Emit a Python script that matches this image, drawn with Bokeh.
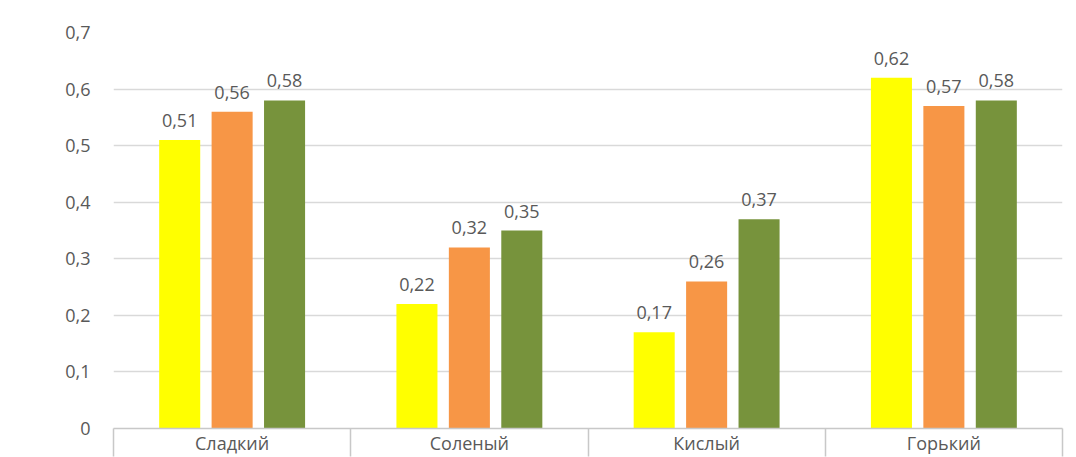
from bokeh.plotting import figure
from bokeh.models import ColumnDataSource, FixedTicker, LinearAxis, LabelSet, CustomJSTickFormatter, Range1d
from bokeh.core.properties import value
from bokeh.embed import file_html
from bokeh.resources import INLINE

categories = ["Сладкий", "Соленый", "Кислый", "Горький"]
series_a = [0.51, 0.22, 0.17, 0.62]
series_b = [0.56, 0.32, 0.26, 0.57]
series_c = [0.58, 0.35, 0.37, 0.58]
colors = ["#FFFF00", "#F79646", "#77933C"]
y_ticks = [0, 0.1, 0.2, 0.3, 0.4, 0.5, 0.6, 0.7]

FONT = "Open Sans"
GREY = "#595959"
FS = "18px"

p = figure(width=1076, height=457, output_backend="svg", toolbar_location=None,
           x_range=Range1d(0, len(categories)), y_range=Range1d(0, 0.7),
           x_axis_type=None, min_border_left=113, min_border_right=14,
           min_border_top=32, min_border_bottom=28)
p.outline_line_color = None
p.background_fill_color = "white"
p.border_fill_color = "white"

bar_w = 0.173
offsets = [-0.221, 0.0, 0.221]
for s, (vals, col, off) in enumerate(zip([series_a, series_b, series_c], colors, offsets)):
    xs = [i + 0.5 + off for i in range(len(categories))]
    src = ColumnDataSource(dict(x=xs, top=vals,
                                lab=[("%.2f" % v).replace(".", ",") for v in vals]))
    p.vbar(x="x", top="top", width=bar_w, bottom=0, source=src,
           fill_color=col, line_color=None)
    p.add_layout(LabelSet(x="x", y="top", text="lab", source=src, y_offset=13,
                          text_align="center", text_baseline="bottom",
                          text_font=value(FONT), text_font_size=FS, text_color=GREY))

# y axis
yax = p.yaxis[0]
yax.ticker = FixedTicker(ticks=y_ticks)
yax.formatter = CustomJSTickFormatter(code="return tick == 0 ? '0' : tick.toFixed(1).replace('.', ',');")
yax.axis_line_color = None
yax.major_tick_line_color = None
yax.minor_tick_line_color = None
yax.major_tick_out = 0
yax.major_label_standoff = 23
yax.major_label_text_font = FONT
yax.major_label_text_font_size = FS
yax.major_label_text_color = GREY

p.ygrid.ticker = FixedTicker(ticks=y_ticks)
p.ygrid.grid_line_color = "#d9d9d9"
p.ygrid.grid_line_width = 1.5
p.xgrid.visible = False

# x axis
xax = LinearAxis(ticker=FixedTicker(ticks=[i + 0.5 for i in range(len(categories))],
                                    minor_ticks=list(range(len(categories) + 1))))
xax.major_label_overrides = {i + 0.5: c for i, c in enumerate(categories)}
xax.axis_line_color = "#c8c8c8"
xax.axis_line_width = 1.5
xax.major_tick_line_color = None
xax.major_tick_out = 0
xax.major_tick_in = 0
xax.minor_tick_line_color = "#c8c8c8"
xax.minor_tick_line_width = 1.5
xax.minor_tick_out = 28
xax.minor_tick_in = 0
xax.major_label_standoff = -26
xax.major_label_text_font = FONT
xax.major_label_text_font_size = FS
xax.major_label_text_color = GREY
p.add_layout(xax, "below")

open("out.html", "w").write(file_html(p, INLINE))
